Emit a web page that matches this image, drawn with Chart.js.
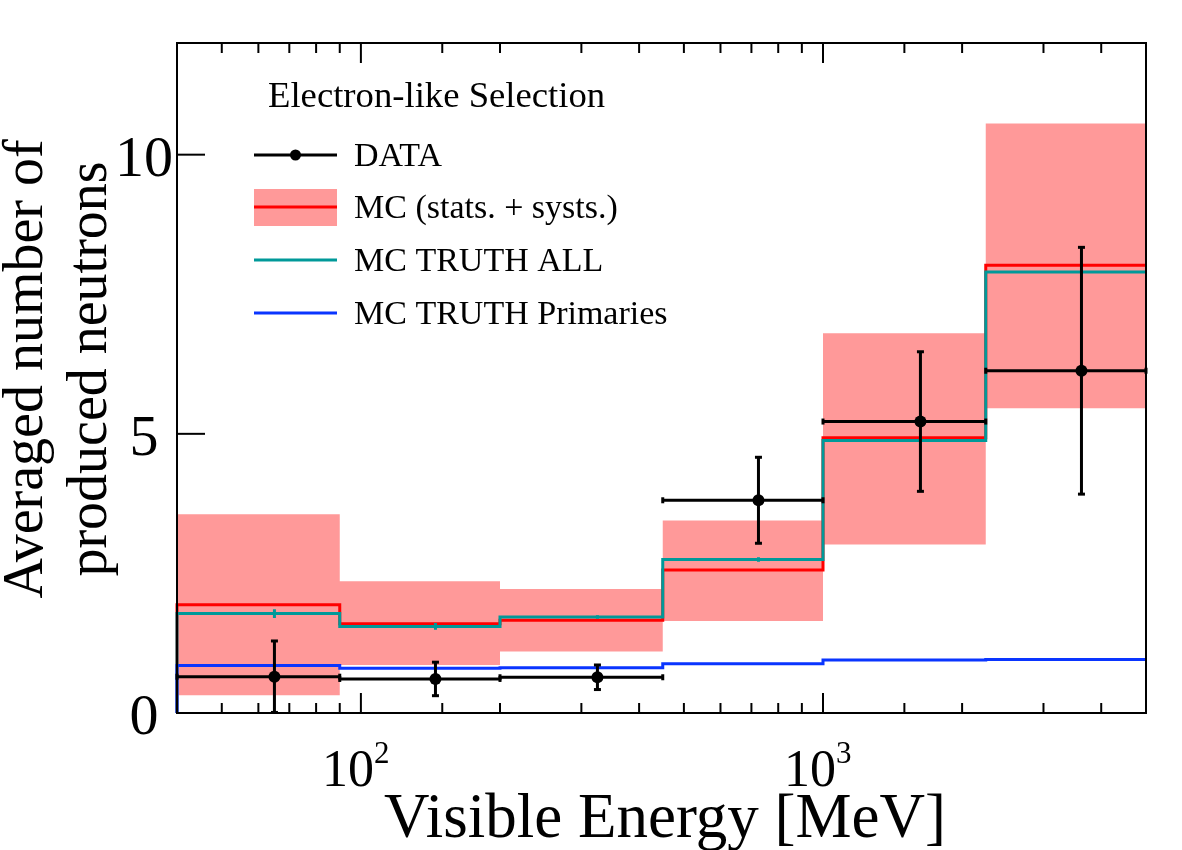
<!DOCTYPE html>
<html>
<head>
<meta charset="utf-8">
<script src="https://cdn.jsdelivr.net/npm/chart.js@4.4.1/dist/chart.umd.min.js"></script>
<style>
html,body{margin:0;padding:0;background:#fff;}
#wrap{width:1182px;height:850px;position:relative;}
canvas{display:block;}
</style>
</head>
<body>
<div id="wrap"><canvas id="c" width="1182" height="850"></canvas></div>
<script>
// ---- data ----
const binEdges = [40, 90, 200, 450, 1000, 2250, 5000];
const binCenters = [65, 145, 325, 725, 1625, 3625];
const dataValues = [0.65, 0.61, 0.64, 3.81, 5.22, 6.13];
const dataErrors = [0.64, 0.30, 0.22, 0.77, 1.25, 2.21];
const mcValues = [1.94, 1.60, 1.66, 2.56, 4.93, 8.02];
const mcBandLow = [0.32, 0.86, 1.10, 1.65, 3.02, 5.46];
const mcBandHigh = [3.56, 2.36, 2.22, 3.45, 6.80, 10.56];
const truthAllValues = [1.78, 1.55, 1.72, 2.75, 4.88, 7.90];
const truthAllErrors = [0.08, 0.06, 0.03, 0.04, 0.03, 0.03];
const truthPrimValues = [0.85, 0.80, 0.81, 0.88, 0.95, 0.96];
const yTickValues = [0, 5, 10];
const yTickLabels = ['0', '5', '10'];
const xTickValues = [100, 1000];
const xTickBases = ['10', '10'];
const xTickExponents = ['2', '3'];
const legendTitle = 'Electron-like Selection';
const legendLabels = ['DATA', 'MC (stats. + systs.)', 'MC TRUTH ALL', 'MC TRUTH Primaries'];
const xTitle = 'Visible Energy [MeV]';
const yTitleLines = ['Averaged number of', 'produced neutrons'];

// ---- styles ----
const COL_BAND = '#ff9999';
const COL_MC = '#ff0000';
const COL_TRUTH = '#009999';
const COL_PRIM = '#0a35ff';
const COL_DATA = '#000000';
const FONT = '"Liberation Serif", "Times New Roman", serif';

// ---- helpers building library data from the arrays ----
function stepFromZero(values) {
  const pts = [{x: binEdges[0], y: 0}];
  values.forEach((v, i) => pts.push({x: binEdges[i], y: v}));
  pts.push({x: binEdges[binEdges.length - 1], y: values[values.length - 1]});
  return pts;
}
function stepPlain(values) {
  const pts = [];
  values.forEach((v, i) => pts.push({x: binEdges[i], y: v}));
  pts.push({x: binEdges[binEdges.length - 1], y: values[values.length - 1]});
  return pts;
}
function hBars(values) {
  const pts = [];
  values.forEach((v, i) => {
    pts.push({x: binEdges[i], y: v});
    pts.push({x: binEdges[i + 1], y: v});
    pts.push({x: binCenters[i], y: null});
  });
  return pts;
}
function vBars(values, errs) {
  const pts = [];
  values.forEach((v, i) => {
    pts.push({x: binCenters[i], y: v - errs[i]});
    pts.push({x: binCenters[i], y: v + errs[i]});
    pts.push({x: binCenters[i], y: null});
  });
  return pts;
}
function points(values) {
  return values.map((v, i) => ({x: binCenters[i], y: v}));
}

const rootStyle = {
  id: 'rootStyle',
  afterDatasetsDraw(chart) {
    const ctx = chart.ctx;
    const a = chart.chartArea;
    const xs = chart.scales.x, ys = chart.scales.y;
    const seg = (x1, y1, x2, y2) => { ctx.beginPath(); ctx.moveTo(x1, y1); ctx.lineTo(x2, y2); ctx.stroke(); };
    ctx.save();
    ctx.strokeStyle = '#000';
    ctx.fillStyle = '#000';
    // x ticks (bottom and top, inward)
    ctx.lineWidth = 2;
    xs.ticks.forEach(t => {
      const px = xs.getPixelForValue(t.value);
      if (px <= a.left + 1 || px >= a.right - 1) return;
      const lg = Math.log10(t.value);
      const major = Math.abs(lg - Math.round(lg)) < 1e-9;
      const len = major ? 20 : 10;
      seg(px, a.bottom, px, a.bottom - len);
      seg(px, a.top, px, a.top + len);
    });
    // y ticks (left only)
    yTickValues.forEach(v => {
      const py = ys.getPixelForValue(v);
      seg(a.left, py, a.left + 28, py);
    });
    // frame
    ctx.lineWidth = 2;
    ctx.strokeRect(a.left, a.top, a.right - a.left, a.bottom - a.top);

    // y tick labels
    ctx.font = '58px ' + FONT;
    ctx.textAlign = 'center';
    ctx.textBaseline = 'alphabetic';
    yTickValues.forEach((v, i) => {
      const py = ys.getPixelForValue(v);
      ctx.fillText(yTickLabels[i], 144, py + 21);
    });
    // x tick labels with exponent
    xTickValues.forEach((v, i) => {
      const px = xs.getPixelForValue(v);
      ctx.textAlign = 'left';
      ctx.font = '52px ' + FONT;
      const x0 = px - 39;
      ctx.fillText(xTickBases[i], x0, 786);
      const w = ctx.measureText(xTickBases[i]).width;
      ctx.font = '31px ' + FONT;
      ctx.fillText(xTickExponents[i], x0 + w, 763);
    });
    // x title
    ctx.font = '63px ' + FONT;
    ctx.textAlign = 'center';
    ctx.fillText(xTitle, 665, 837);
    // y title
    ctx.font = '56px ' + FONT;
    const yBases = [42, 106];
    yTitleLines.forEach((txt, i) => {
      ctx.save();
      ctx.translate(yBases[i], 369);
      ctx.rotate(-Math.PI / 2);
      ctx.textAlign = 'center';
      ctx.fillText(txt, 0, 0);
      ctx.restore();
    });

    // legend
    ctx.font = '36.7px ' + FONT;
    ctx.textAlign = 'left';
    ctx.fillText(legendTitle, 268, 107);
    const rows = [155, 207, 260, 313];
    const x1 = 254, x2 = 337, tx = 354;
    // DATA
    ctx.strokeStyle = COL_DATA; ctx.lineWidth = 3;
    seg(x1, rows[0], x2, rows[0]);
    ctx.beginPath(); ctx.arc((x1 + x2) / 2, rows[0], 5.5, 0, Math.PI * 2); ctx.fill();
    // MC band
    ctx.fillStyle = COL_BAND;
    ctx.fillRect(x1, rows[1] - 18, x2 - x1, 37);
    ctx.strokeStyle = COL_MC; seg(x1, rows[1], x2, rows[1]);
    ctx.strokeStyle = COL_TRUTH; seg(x1, rows[2], x2, rows[2]);
    ctx.strokeStyle = COL_PRIM; seg(x1, rows[3], x2, rows[3]);
    ctx.fillStyle = '#000';
    ctx.font = '34px ' + FONT;
    legendLabels.forEach((lab, i) => ctx.fillText(lab, tx, rows[i] + 11));
    ctx.restore();
  }
};

const lineBase = {type: 'line', pointRadius: 0, fill: false, tension: 0, spanGaps: false, clip: 6};

new Chart(document.getElementById('c'), {
  type: 'line',
  data: {
    datasets: [
      Object.assign({}, lineBase, {label: 'band high', data: stepPlain(mcBandHigh), stepped: 'before',
        borderWidth: 0, borderColor: 'rgba(0,0,0,0)', order: 20}),
      Object.assign({}, lineBase, {label: 'band low', data: stepPlain(mcBandLow), stepped: 'before',
        borderWidth: 0, borderColor: 'rgba(0,0,0,0)', fill: '-1', backgroundColor: COL_BAND, order: 19}),
      Object.assign({}, lineBase, {label: 'MC', data: stepFromZero(mcValues), stepped: 'before',
        borderWidth: 3, borderColor: COL_MC, order: 15}),
      Object.assign({}, lineBase, {label: 'MC TRUTH ALL', data: stepFromZero(truthAllValues), stepped: 'before',
        borderWidth: 3, borderColor: COL_TRUTH, order: 14}),
      Object.assign({}, lineBase, {label: 'truth err', data: vBars(truthAllValues, truthAllErrors),
        borderWidth: 3, borderColor: COL_TRUTH, order: 13}),
      Object.assign({}, lineBase, {label: 'MC TRUTH Primaries', data: stepFromZero(truthPrimValues), stepped: 'before',
        borderWidth: 3, borderColor: COL_PRIM, order: 12}),
      Object.assign({}, lineBase, {label: 'data xerr', data: hBars(dataValues),
        borderWidth: 3, borderColor: COL_DATA, pointRadius: 3, pointStyle: 'line', pointRotation: 90,
        pointBorderColor: COL_DATA, pointBorderWidth: 3, order: 3}),
      Object.assign({}, lineBase, {label: 'data yerr', data: vBars(dataValues, dataErrors),
        borderWidth: 3, borderColor: COL_DATA, pointRadius: 3.5, pointStyle: 'line', pointRotation: 0,
        pointBorderColor: COL_DATA, pointBorderWidth: 3, order: 2}),
      Object.assign({}, lineBase, {label: 'DATA', data: points(dataValues), showLine: false,
        pointRadius: 6, pointStyle: 'circle', pointBackgroundColor: COL_DATA, pointBorderColor: COL_DATA,
        pointBorderWidth: 0, order: 1})
    ]
  },
  options: {
    responsive: false,
    animation: false,
    devicePixelRatio: 1,
    events: [],
    layout: {padding: {left: 177, top: 43, right: 36, bottom: 137}},
    plugins: {legend: {display: false}, tooltip: {enabled: false}, title: {display: false}},
    scales: {
      x: {type: 'logarithmic', min: binEdges[0], max: binEdges[binEdges.length - 1], display: false},
      y: {type: 'linear', min: 0, max: 12, display: false, ticks: {stepSize: 5, includeBounds: false}}
    }
  },
  plugins: [rootStyle]
});
</script>
</body>
</html>
